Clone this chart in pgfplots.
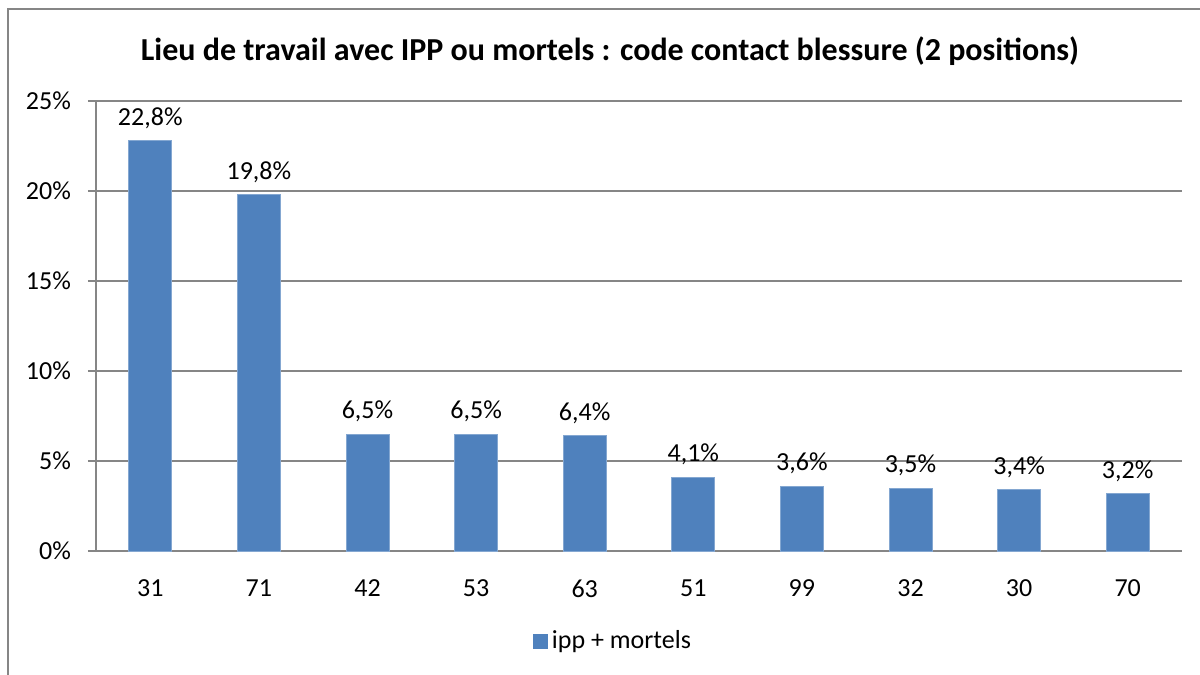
\documentclass[border=0pt]{standalone}
\usepackage{pgfplots}
\pgfplotsset{compat=1.18}
\usepackage{fontspec}
\setmainfont{Carlito}
\definecolor{barblue}{RGB}{79,129,189}
\definecolor{gridgray}{RGB}{134,134,134}
\begin{document}
\begin{tikzpicture}
\useasboundingbox (0,0) rectangle (600pt,337.5pt);
\draw[gridgray, line width=0.6pt] (4pt,0) -- (4pt,333pt) -- (600pt,333pt);
\node[font=\fontsize{16}{19}\selectfont\bfseries] at (305pt,312pt) {Lieu de travail avec IPP ou mortels : code contact blessure (2 positions)};
\begin{axis}[
  at={(48pt,62pt)}, anchor=south west,
  width=543pt, height=225pt, scale only axis,
  xmin=-0.5, xmax=9.5, ymin=0, ymax=25,
  axis x line=bottom, axis y line=left,
  axis line style={gridgray, line width=0.8pt, -},
  xtick={0,...,9},
  xticklabels={31,71,42,53,63,51,99,32,30,70},
  xtick style={draw=none},
  minor xtick={-0.5,0.5,...,9.5},
  minor x tick style={gridgray, line width=0.8pt},
  minor tick length=4pt,
  ytick={0,5,10,15,20,25},
  yticklabels={0\%,5\%,10\%,15\%,20\%,25\%},
  ytick style={gridgray, line width=0.8pt},
  major tick length=4pt,
  tick align=outside,
  ymajorgrids,
  major grid style={gridgray, line width=0.6pt},
  tick label style={font=\fontsize{13}{15}\selectfont},
  yticklabel style={xshift=-5pt},
  xticklabel style={yshift=-7pt},
  ybar, bar width=21.5pt,
  nodes near coords={\pgfmathprintnumber[fixed,fixed zerofill,precision=1,use comma]{\pgfplotspointmeta}\%},
  every node near coord/.append style={font=\fontsize{13}{15}\selectfont, yshift=2.5pt, /pgf/number format/assume math mode=true},
  legend style={at={(0.477,-0.2)}, anchor=center, draw=none, font=\fontsize{13}{15}\selectfont},
  legend image code/.code={\fill[barblue] (0pt,-3.5pt) rectangle (7pt,3.5pt);},
  legend cell align=left,
  legend style={/tikz/every even column/.append style={column sep=0pt}, nodes={inner sep=2pt}},
]
\addplot[fill=barblue, draw=barblue!70!white, line width=0.4pt] coordinates {
(0,22.8) (1,19.8) (2,6.5) (3,6.5) (4,6.4) (5,4.1) (6,3.6) (7,3.5) (8,3.4) (9,3.2)};
\addlegendentry{ipp + mortels}
\end{axis}
\end{tikzpicture}
\end{document}
